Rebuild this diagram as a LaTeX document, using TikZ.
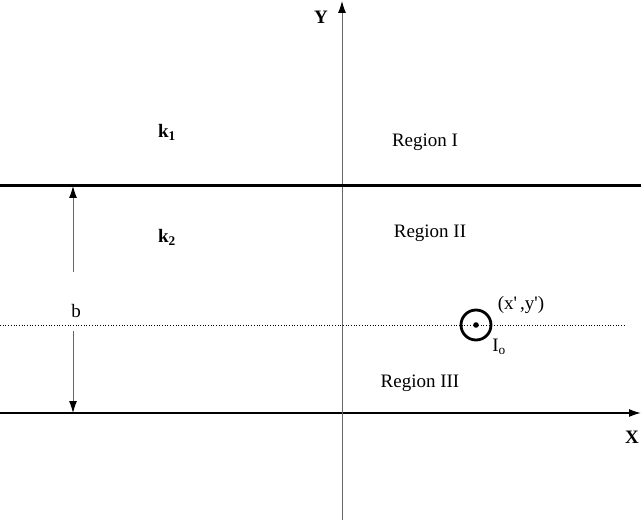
\documentclass[tikz,border=0pt]{standalone}
\usepackage{fontspec}
\setmainfont{Liberation Serif}
\usetikzlibrary{arrows.meta,positioning}
\tikzset{
  lbl/.style={inner sep=0pt, font=\fontsize{19}{21}\selectfont},
  bigl/.style={inner sep=0pt, font=\fontsize{19}{21}\selectfont\bfseries},
  axis/.style={-{Latex[length=12pt,width=8pt]}},
  dimarr/.style={-{Latex[length=12pt,width=8pt,fill=black,color=black]}, draw=gray!80!black, line width=1pt},
}
\begin{document}
\begin{tikzpicture}[x=1pt, y=-1pt]
\useasboundingbox (0,0) rectangle (641,524);

%% axes
\coordinate (xl) at (0,413);
\coordinate (xr) at (641,413);
\coordinate (yb) at (342,520);
\coordinate (yt) at (342,1);
\draw[axis, line width=1.6pt] (xl) -- (xr);
\draw[dimarr] (yb) -- (yt);
\node[bigl] (ylab) at (321,17) {Y};
\node[bigl] (xlab) at (632,437) {X};

%% interface between k1 and k2
\coordinate (il) at (0,186);
\coordinate (ir) at (641,186);
\draw[line width=3pt] (il) -- (ir);

%% source line y = y'
\coordinate (dl) at (0,325);
\coordinate (dr) at (625,325);
\draw[dotted, line width=0.7pt] (dl) -- (dr);

%% dimension b
\node[lbl] (blab) at (76,311) {b};
\coordinate (bt) at (73,186);
\coordinate (bu) at (73,272);
\coordinate (bd) at (73,331);
\coordinate (bb) at (73,413);
\draw[dimarr] (bu) -- (bt);
\draw[dimarr] (bd) -- (bb);

%% source
\node[circle, draw, line width=2.8pt, minimum size=30pt, inner sep=0pt] (src) at (476,325) {};
\fill (src.center) circle (2.8pt);
\node[lbl] (srcpos) at (521,305) {(x\textquotesingle\,,y\textquotesingle)};
\node[lbl] (srcI) at (499,347) {I\textsubscript{o}};

%% media and regions
\node[bigl] (k1) at (167,132) {k\textsubscript{1}};
\node[bigl] (k2) at (167,237) {k\textsubscript{2}};
\node[lbl] (r1) at (425,142) {Region I};
\node[lbl] (r2) at (430,233) {Region II};
\node[lbl] (r3) at (420,383) {Region III};
\end{tikzpicture}
\end{document}
